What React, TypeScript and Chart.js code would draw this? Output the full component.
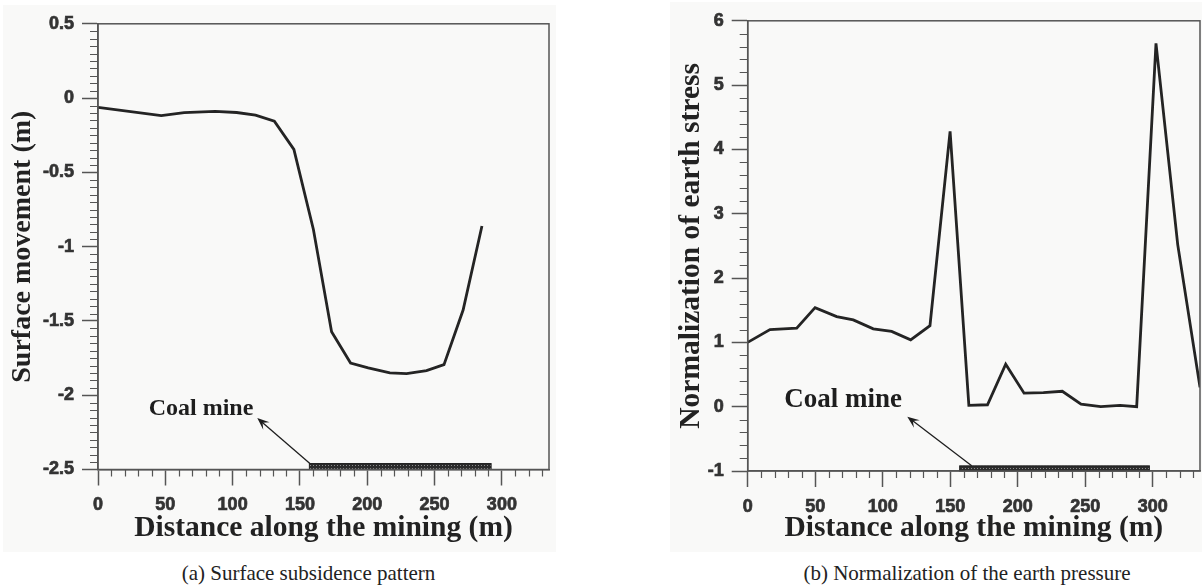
import React, { useEffect, useRef } from 'react';
import { Chart, registerables } from 'chart.js';

Chart.register(...registerables);

// ---------- data ----------
const X_TICKS = [0, 50, 100, 150, 200, 250, 300];
const Y_TICKS_A = [0.5, 0, -0.5, -1, -1.5, -2, -2.5];
const Y_TICKS_B = [6, 5, 4, 3, 2, 1, 0, -1];

const DIST_A = [0, 47, 64, 87, 103, 117, 131, 145.5, 160, 173.5, 187.6, 200.7, 216.8, 229.2, 244, 257, 271.2, 285.2];
const SUBSIDENCE = [-0.062, -0.118, -0.098, -0.089, -0.097, -0.115, -0.155, -0.345, -0.884, -1.572, -1.783, -1.816, -1.85, -1.854, -1.834, -1.794, -1.427, -0.861];

const DIST_B = [0, 16.5, 36.3, 49.9, 65.9, 78.2, 93, 106.6, 120.7, 135, 149.9, 163.8, 177.6, 191.1, 204.7, 219, 233, 246.9, 261.5, 275.8, 288.1, 302.4, 318.5, 335];
const STRESS = [1.0, 1.2, 1.22, 1.54, 1.4, 1.35, 1.21, 1.17, 1.04, 1.26, 4.28, 0.02, 0.03, 0.66, 0.21, 0.22, 0.24, 0.04, 0.0, 0.02, 0.0, 5.65, 2.52, 0.3];

// coal seam extent (distance) and thickness (axis units) for each panel
const COAL_A = [157, 292];
const COAL_B = [157, 297.5];
const COAL_TOP_A = -2.46;
const COAL_TOP_B = -0.92;

// ---------- styles ----------
const AXIS_COLOR = '#555555';
const TEXT_COLOR = '#222222';
const LINE_COLOR = '#242424';
const SANS = 'Liberation Sans, Arial, sans-serif';
const SERIF = 'Liberation Serif, Times New Roman, serif';

function makePattern(ctx: CanvasRenderingContext2D) {
  const c = document.createElement('canvas');
  c.width = 3;
  c.height = 3;
  const p = c.getContext('2d')!;
  p.fillStyle = '#2c2c2c';
  p.fillRect(0, 0, 3, 3);
  p.fillStyle = '#8c8c8c';
  p.fillRect(1, 1, 1, 1);
  return ctx.createPattern(c, 'repeat');
}

const decorPlugin = {
  id: 'decor',
  afterDatasetsDraw(chart: any, _args: any, opts: any) {
    const { ctx, chartArea: ca, scales } = chart;
    const x = scales.x;
    const y = scales.y;
    ctx.save();
    const x0 = x.getPixelForValue(opts.coal[0]);
    const x1 = x.getPixelForValue(opts.coal[1]);
    const yt = y.getPixelForValue(opts.coalTop);
    const yb = ca.bottom;
    ctx.fillStyle = makePattern(ctx) || '#333';
    ctx.fillRect(x0, yt, x1 - x0, yb - yt);
    ctx.strokeStyle = '#1e1e1e';
    ctx.lineWidth = 1;
    ctx.strokeRect(x0, yt, x1 - x0, yb - yt);

    const tx = x.getPixelForValue(opts.arrow[0]);
    const ty = y.getPixelForValue(opts.arrow[1]);
    const hx = x.getPixelForValue(opts.arrow[2]);
    const hy = y.getPixelForValue(opts.arrow[3]);
    const ang = Math.atan2(hy - ty, hx - tx);
    ctx.strokeStyle = '#1e1e1e';
    ctx.fillStyle = '#1e1e1e';
    ctx.lineWidth = 1.3;
    ctx.beginPath();
    ctx.moveTo(tx, ty);
    ctx.lineTo(hx - 6 * Math.cos(ang), hy - 6 * Math.sin(ang));
    ctx.stroke();
    const L = 13;
    const w = 0.38;
    ctx.beginPath();
    ctx.moveTo(hx, hy);
    ctx.lineTo(hx - L * Math.cos(ang - w), hy - L * Math.sin(ang - w));
    ctx.lineTo(hx - 7 * Math.cos(ang), hy - 7 * Math.sin(ang));
    ctx.lineTo(hx - L * Math.cos(ang + w), hy - L * Math.sin(ang + w));
    ctx.closePath();
    ctx.fill();

    ctx.fillStyle = '#1e1e1e';
    ctx.font = `bold ${opts.labelSize}px ${SERIF}`;
    ctx.textAlign = 'center';
    ctx.textBaseline = 'middle';
    ctx.fillText(opts.label, x.getPixelForValue(opts.labelPos[0]), y.getPixelForValue(opts.labelPos[1]));
    ctx.restore();
  },
  afterDraw(chart: any, _args: any, opts: any) {
    const { ctx, chartArea: ca, scales } = chart;
    const x = scales.x;
    const y = scales.y;
    ctx.save();
    ctx.strokeStyle = AXIS_COLOR;
    ctx.lineWidth = 1.5;
    ctx.strokeRect(ca.left, ca.top, ca.right - ca.left, ca.bottom - ca.top);
    ctx.lineWidth = 1.2;
    ctx.beginPath();
    const nx = Math.round((x.max - x.min) / opts.xMinor);
    for (let i = 0; i <= nx; i++) {
      const v = x.min + i * opts.xMinor;
      if (v > x.max + 1e-9) break;
      const r = v / opts.xMajor;
      if (Math.abs(r - Math.round(r)) < 1e-6) continue;
      const px = Math.round(x.getPixelForValue(v)) + 0.5;
      ctx.moveTo(px, ca.bottom);
      ctx.lineTo(px, ca.bottom + 7);
    }
    const ny = Math.round((y.max - y.min) / opts.yMinor);
    for (let i = 0; i <= ny; i++) {
      const v = y.min + i * opts.yMinor;
      const r = v / opts.yMajor;
      if (Math.abs(r - Math.round(r)) < 1e-6) continue;
      const py = Math.round(y.getPixelForValue(v)) + 0.5;
      ctx.moveTo(ca.left, py);
      ctx.lineTo(ca.left - 8, py);
    }
    ctx.stroke();
    ctx.restore();
  },
};

function buildConfig(p: {
  xs: number[];
  ys: number[];
  yMin: number;
  yMax: number;
  yTicks: number[];
  yTitle: string;
  yTitleSize: number;
  yWidth: number;
  xHeight: number;
  padding: any;
  yTitlePad: number;
  decor: any;
}) {
  const tickFont = { family: SANS, size: 18, weight: 'bold' };
  return {
    type: 'line' as const,
    data: {
      datasets: [
        {
          data: p.xs.map((v, i) => ({ x: v, y: p.ys[i] })),
          borderColor: LINE_COLOR,
          borderWidth: 2.8,
          pointRadius: 0,
          tension: 0,
          fill: false,
        },
      ],
    },
    options: {
      animation: false,
      responsive: false,
      events: [],
      layout: { padding: p.padding },
      plugins: { legend: { display: false }, tooltip: { enabled: false }, decor: p.decor },
      scales: {
        x: {
          type: 'linear',
          min: 0,
          max: 335,
          afterBuildTicks: (s: any) => {
            s.ticks = X_TICKS.map((v) => ({ value: v }));
          },
          afterFit: (s: any) => {
            s.height = p.xHeight;
          },
          grid: { display: true, drawOnChartArea: false, drawTicks: true, tickLength: 16, tickColor: AXIS_COLOR, tickWidth: 1.5 },
          border: { display: true, color: AXIS_COLOR, width: 1.5 },
          ticks: {
            font: tickFont,
            color: '#333',
            textStrokeColor: '#333',
            textStrokeWidth: 0.7,
            padding: 9,
            maxRotation: 0,
            autoSkip: false,
            callback: (v: any) => String(v),
          },
          title: {
            display: true,
            text: 'Distance along the mining (m)',
            font: { family: SERIF, size: 29.5, weight: 'bold' },
            color: TEXT_COLOR,
            padding: { top: 0, bottom: 6 },
          },
        },
        y: {
          type: 'linear',
          min: p.yMin,
          max: p.yMax,
          afterBuildTicks: (s: any) => {
            s.ticks = p.yTicks.slice().reverse().map((v) => ({ value: v }));
          },
          afterFit: (s: any) => {
            s.width = p.yWidth;
          },
          grid: { display: true, drawOnChartArea: false, drawTicks: true, tickLength: 16, tickColor: AXIS_COLOR, tickWidth: 1.5 },
          border: { display: true, color: AXIS_COLOR, width: 1.5 },
          ticks: {
            font: tickFont,
            color: '#333',
            textStrokeColor: '#333',
            textStrokeWidth: 0.7,
            padding: 8,
            autoSkip: false,
            callback: (v: any) => String(Math.round(v * 100) / 100),
          },
          title: {
            display: true,
            text: p.yTitle,
            font: { family: SERIF, size: p.yTitleSize, weight: 'bold' },
            color: TEXT_COLOR,
            padding: { top: p.yTitlePad, bottom: 0 },
          },
        },
      },
    },
    plugins: [decorPlugin],
  };
}

export default function App() {
  const refA = useRef<HTMLCanvasElement>(null);
  const refB = useRef<HTMLCanvasElement>(null);

  useEffect(() => {
    const a = new Chart(
      refA.current!,
      buildConfig({
        xs: DIST_A,
        ys: SUBSIDENCE,
        yMin: -2.5,
        yMax: 0.5,
        yTicks: Y_TICKS_A,
        yTitle: 'Surface movement (m)',
        yTitleSize: 28,
        yWidth: 95,
        xHeight: 82.5,
        padding: { left: 0, top: 14, right: 7, bottom: 0 },
        yTitlePad: 3,
        decor: {
          coal: COAL_A,
          coalTop: COAL_TOP_A,
          arrow: [157.4, COAL_TOP_A, 118.3, -2.154],
          label: 'Coal mine',
          labelPos: [76.5, -2.09],
          labelSize: 24,
          xMinor: 10,
          xMajor: 50,
          yMinor: 0.05,
          yMajor: 0.5,
        },
      }) as any
    );
    const b = new Chart(
      refB.current!,
      buildConfig({
        xs: DIST_B,
        ys: STRESS,
        yMin: -1,
        yMax: 6,
        yTicks: Y_TICKS_B,
        yTitle: 'Normalization of earth stress',
        yTitleSize: 29.5,
        yWidth: 77.7,
        xHeight: 81,
        padding: { left: 0, top: 17, right: 2, bottom: 0 },
        yTitlePad: 4,
        decor: {
          coal: COAL_B,
          coalTop: COAL_TOP_B,
          arrow: [165.9, COAL_TOP_B, 118.2, -0.155],
          label: 'Coal mine',
          labelPos: [70.6, 0.11],
          labelSize: 27,
          xMinor: 10,
          xMajor: 50,
          yMinor: 0.2,
          yMajor: 1,
        },
      }) as any
    );
    return () => {
      a.destroy();
      b.destroy();
    };
  }, []);

  const caption: React.CSSProperties = {
    position: 'absolute',
    top: 563,
    width: 400,
    textAlign: 'center',
    fontFamily: SERIF,
    fontSize: 21,
    lineHeight: '21px',
    color: '#222',
    whiteSpace: 'nowrap',
  };

  return (
    <div style={{ position: 'absolute', left: 0, top: 0, width: 1202, height: 587, background: '#ffffff', overflow: 'hidden' }}>
      <div style={{ position: 'absolute', left: 3, top: 5, width: 553, height: 547, background: '#f9f9f8' }}>
        <canvas ref={refA} width={553} height={547} style={{ display: 'block' }} />
      </div>
      <div style={{ position: 'absolute', left: 670, top: 2, width: 532, height: 550, background: '#f9f9f8' }}>
        <canvas ref={refB} width={532} height={550} style={{ display: 'block' }} />
      </div>
      <div style={{ ...caption, left: 108.5 }}>(a) Surface subsidence pattern</div>
      <div style={{ ...caption, left: 767 }}>(b) Normalization of the earth pressure</div>
    </div>
  );
}
